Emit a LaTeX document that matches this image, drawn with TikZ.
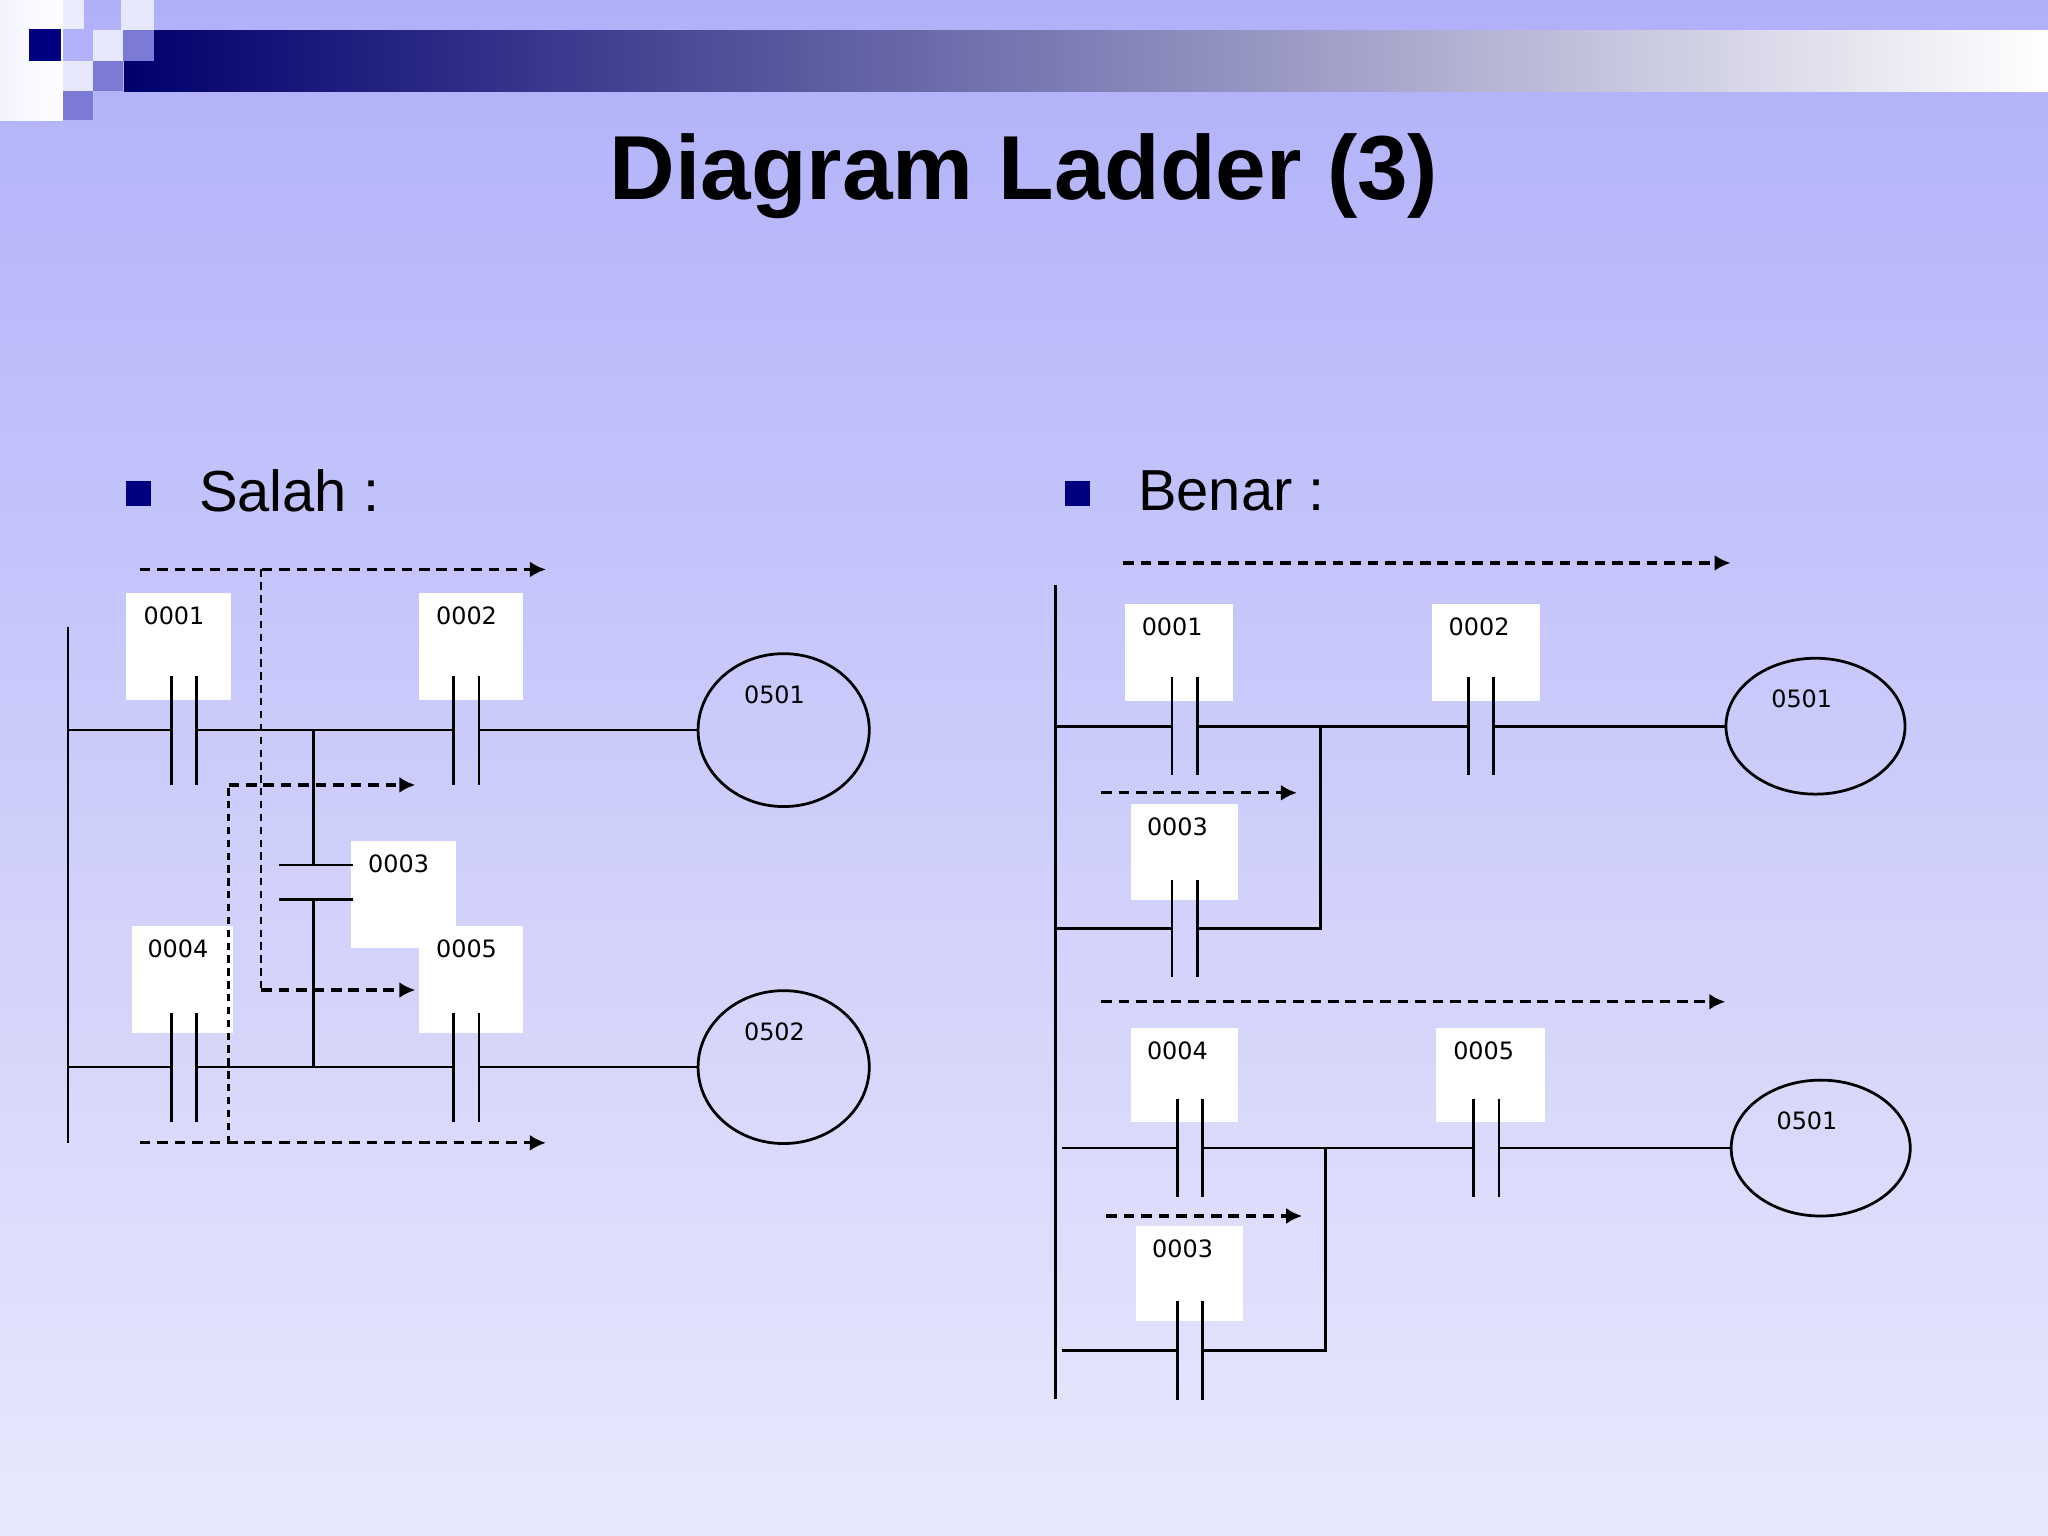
\documentclass[tikz,border=0pt]{standalone}
\usepackage{fontspec}
\setmainfont{Liberation Sans}
\newfontfamily\tagfont{DejaVu Sans}
\usetikzlibrary{positioning,shapes.geometric,arrows.meta}
\definecolor{navy}{RGB}{0,0,128}
\definecolor{bgtop}{RGB}{176,176,250}
\definecolor{bgbot}{RGB}{232,232,252}
\tikzset{
  wire/.style={line width=0.6pt},
  flow/.style={line width=0.7pt, dash pattern=on 2.3pt off 1.5pt, -{Latex[length=3.5pt,width=3.5pt]}},
  trace/.style={line width=0.5pt, dash pattern=on 1.6pt off 1.2pt},
  box/.style={fill=white, draw=none, minimum width=0.8cm, minimum height=0.82cm, anchor=north west, inner sep=0pt},
  tag/.style={font=\tagfont\fontsize{5.2}{6}\selectfont, inner sep=0pt},
  contact/.style={minimum width=0.18cm, minimum height=0.82cm, inner sep=0pt, draw=none,
    append after command={(\tikzlastnode.north west) edge[wire] (\tikzlastnode.south west)
      (\tikzlastnode.north east) edge[wire] (\tikzlastnode.south east)}},
  hcontact/.style={minimum width=0.55cm, minimum height=0.25cm, inner sep=0pt, draw=none,
    append after command={(\tikzlastnode.north west) edge[wire] (\tikzlastnode.north east)
      (\tikzlastnode.south west) edge[wire] (\tikzlastnode.south east)}},
  coil/.style={ellipse, draw, line width=0.6pt, inner sep=0pt},
  bullet/.style={fill=navy, minimum size=0.19cm, inner sep=0pt},
  heading/.style={font=\fontsize{12.6}{15}\selectfont, anchor=west}
}
\begin{document}
\begin{tikzpicture}[x=0.01cm, y=-0.01cm]
  \useasboundingbox (0,0) rectangle (1568,1176);
  % background
  \shade[top color=bgtop, bottom color=bgbot] (0,0) rectangle (1568,1176);
  \shade[left color=navy!85!black, right color=white] (95,23) rectangle (1568,70);
  \shade[left color=white!85!bgtop, right color=white] (0,0) rectangle (48,92);
  \fill[navy] (22,22) rectangle (47,47);
  \fill[white!75!bgtop] (48,0) rectangle (64,22);
  \fill[white!70!bgtop] (93,0) rectangle (118,23);
  \fill[white!70!bgtop] (71,23) rectangle (94,47);
  \fill[navy!30!bgtop] (94,23) rectangle (118,47);
  \fill[white!70!bgtop] (48,47) rectangle (71,70);
  \fill[navy!30!bgtop] (71,47) rectangle (94,70);
  \fill[navy!30!bgtop] (48,70) rectangle (71,92);

  \node[font=\bfseries\fontsize{19.8}{24}\selectfont] (title) at (784,135) {Diagram Ladder (3)};
  \node[bullet] (b1) at (106,378) {};
  \node[heading] (salah) at (140,376) {Salah :};
  \node[bullet] (b2) at (825,378) {};
  \node[heading] (benar) at (859,376) {Benar :};

  % Salah
  \coordinate (railAt) at (52,480);
  \coordinate (railAb) at (52,875);
  \draw[wire] (railAt) -- (railAb);
  \node[box] (sbx1) at (96,453) {};
  \node[tag, below=3pt of sbx1.north, xshift=-1pt] {0001};
  \node[box] (sbx2) at (320,453) {};
  \node[tag, below=3pt of sbx2.north, xshift=-1pt] {0002};
  \node[box] (sbx3) at (268,643) {};
  \node[tag, below=3pt of sbx3.north, xshift=-1pt] {0003};
  \node[box, minimum width=0.78cm] (sbx4) at (100,708) {};
  \node[tag, below=3pt of sbx4.north, xshift=-1pt] {0004};
  \node[box] (sbx5) at (320,708) {};
  \node[tag, below=3pt of sbx5.north, xshift=-1pt] {0005};
  \node[contact] (sc1) at (141,559) {};
  \node[contact] (sc2) at (357,559) {};
  \node[hcontact] (sc3) at (242,675.5) {};
  \node[contact] (sc4) at (141,817) {};
  \node[contact] (sc5) at (357,817) {};
  \node[coil, minimum width=1.31cm, minimum height=1.17cm] (sq1) at (600,559) {};
  \node[tag, below=7pt of sq1.north, xshift=-2pt] {0501};
  \node[coil, minimum width=1.31cm, minimum height=1.17cm] (sq2) at (600,817) {};
  \node[tag, below=7pt of sq2.north, xshift=-2pt] {0502};
  \coordinate (sj1) at (240,559);
  \coordinate (sj2) at (240,817);
  \draw[wire] (railAt |- sc1) -- (sc1.west) (sc1.east) -- (sc2.west) (sc2.east) -- (sq1.west);
  \draw[wire] (railAt |- sc4) -- (sc4.west) (sc4.east) -- (sc5.west) (sc5.east) -- (sq2.west);
  \draw[wire] (sj1) -- (sj1 |- sc3.north) (sj2 |- sc3.south) -- (sj2);
  \coordinate (sa1) at (107,436);
  \coordinate (sa2) at (418,436);
  \coordinate (sa3) at (107,875);
  \coordinate (sa4) at (418,875);
  \coordinate (sd1) at (200,436);
  \coordinate (sd2) at (318,758);
  \coordinate (sd3) at (175,601);
  \coordinate (sd4) at (318,601);
  \draw[flow] (sa1) -- (sa2);
  \draw[flow] (sa3) -- (sa4);
  \draw[trace] (sd1) -- (sd1 |- sd2);
  \draw[flow] (sd1 |- sd2) -- (sd2);
  \draw[trace] (sd3 |- sa3) -- (sd3);
  \draw[flow] (sd3) -- (sd4);

  % Benar
  \coordinate (railBt) at (808,448);
  \coordinate (railBb) at (808,1071);
  \draw[wire] (railBt) -- (railBb);
  \node[box, minimum width=0.82cm, minimum height=0.74cm] (bbx1) at (861,462) {};
  \node[tag, below=3pt of bbx1.north, xshift=-1.5pt] {0001};
  \node[box, minimum width=0.82cm, minimum height=0.74cm] (bbx2) at (1096,462) {};
  \node[tag, below=3pt of bbx2.north, xshift=-1.5pt] {0002};
  \node[box, minimum width=0.82cm, minimum height=0.73cm] (bbx3) at (865,615) {};
  \node[tag, below=3pt of bbx3.north, xshift=-1.5pt] {0003};
  \node[box, minimum width=0.82cm, minimum height=0.72cm] (bbx4) at (865,786) {};
  \node[tag, below=3pt of bbx4.north, xshift=-1.5pt] {0004};
  \node[box, minimum width=0.83cm, minimum height=0.72cm] (bbx5) at (1099,786) {};
  \node[tag, below=3pt of bbx5.north, xshift=-1.5pt] {0005};
  \node[box, minimum width=0.82cm, minimum height=0.73cm] (bbx6) at (869,938) {};
  \node[tag, below=3pt of bbx6.north, xshift=-1.5pt] {0003};
  \node[contact, minimum height=0.74cm] (bc1) at (907,556) {};
  \node[contact, minimum height=0.74cm] (bc2) at (1134,556) {};
  \node[contact, minimum height=0.73cm] (bc3) at (907,711) {};
  \node[contact, minimum height=0.74cm] (bc4) at (911,879) {};
  \node[contact, minimum height=0.74cm] (bc5) at (1138,879) {};
  \node[contact, minimum height=0.74cm] (bc6) at (911,1034) {};
  \node[coil, minimum width=1.37cm, minimum height=1.04cm] (bq1) at (1390,556) {};
  \node[tag, below=7pt of bq1.north, xshift=-3pt] {0501};
  \node[coil, minimum width=1.37cm, minimum height=1.04cm] (bq2) at (1394,879) {};
  \node[tag, below=7pt of bq2.north, xshift=-3pt] {0501};
  \coordinate (bj1) at (1011,556);
  \coordinate (bj2) at (1015,879);
  \coordinate (bl2) at (813,879);
  \draw[wire] (railBt |- bc1) -- (bc1.west) (bc1.east) -- (bc2.west) (bc2.east) -- (bq1.west);
  \draw[wire] (railBt |- bc3) -- (bc3.west) (bc3.east) -| (bj1);
  \draw[wire] (bl2) -- (bc4.west) (bc4.east) -- (bc5.west) (bc5.east) -- (bq2.west);
  \draw[wire] (bl2 |- bc6) -- (bc6.west) (bc6.east) -| (bj2);
  \coordinate (ba1) at (860,431);
  \coordinate (ba2) at (1325,431);
  \coordinate (ba3) at (843,607);
  \coordinate (ba4) at (993,607);
  \coordinate (ba5) at (843,767);
  \coordinate (ba6) at (1321,767);
  \coordinate (ba7) at (847,931);
  \coordinate (ba8) at (997,931);
  \draw[flow] (ba1) -- (ba2);
  \draw[flow] (ba3) -- (ba4);
  \draw[flow] (ba5) -- (ba6);
  \draw[flow] (ba7) -- (ba8);
\end{tikzpicture}
\end{document}
